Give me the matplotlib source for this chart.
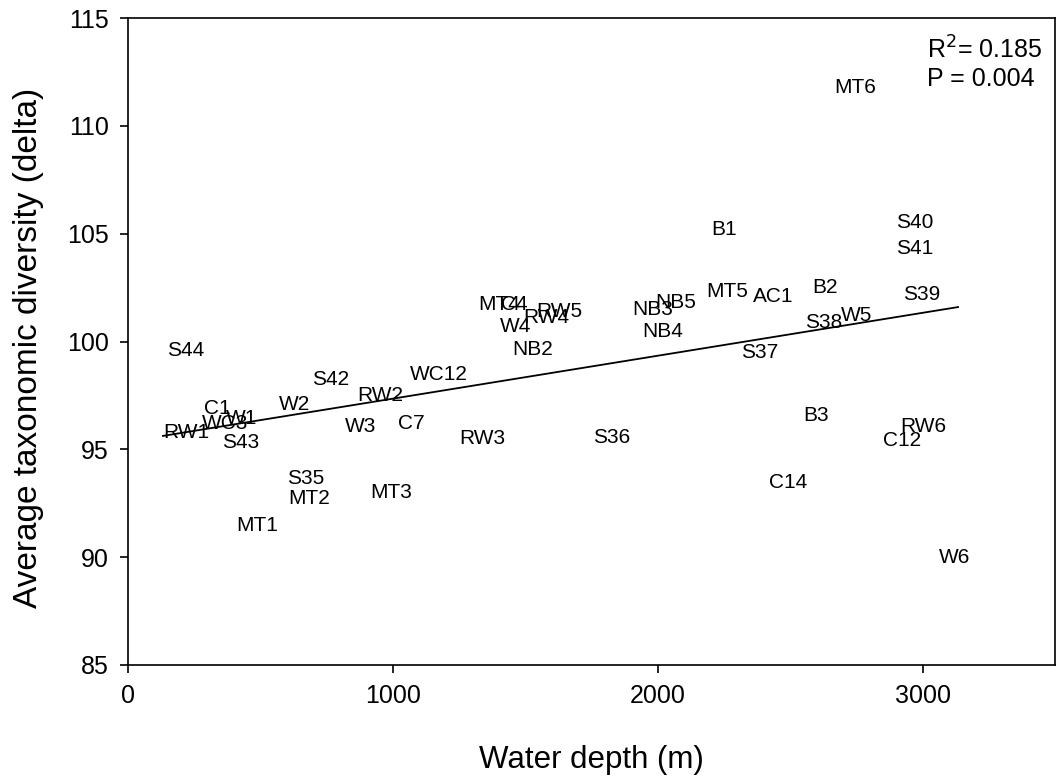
import matplotlib
matplotlib.use("Agg")
import matplotlib.pyplot as plt
import numpy as np

plt.rcParams['font.family'] = ['Liberation Sans', 'DejaVu Sans']

# station labels, water depth (m) and average taxonomic diversity (delta)
sites = ['MT6', 'S40', 'S41', 'B1', 'MT5', 'AC1', 'B2', 'S39', 'NB3', 'NB5',
         'MT4', 'C4', 'RW5', 'RW4', 'W4', 'NB2', 'NB4', 'S38', 'W5', 'S37',
         'S44', 'S42', 'WC12', 'RW2', 'W2', 'C1', 'WC3', 'W1', 'RW1', 'S43',
         'W3', 'C7', 'RW3', 'S36', 'B3', 'RW6', 'C12', 'S35', 'MT2', 'MT3',
         'C14', 'MT1', 'W6']
depth = [2746, 2972, 2972, 2249, 2264, 2437, 2633, 2998, 1981, 2068,
         1400, 1458, 1627, 1578, 1465, 1529, 2019, 2625, 2750, 2384,
         218, 765, 1175, 953, 629, 339, 365, 429, 222, 425,
         878, 1070, 1337, 1827, 2599, 3002, 2923, 670, 682, 994,
         2493, 486, 3122]
delta = [111.8, 105.5, 104.3, 105.2, 102.3, 102.1, 102.5, 102.2, 101.5, 101.8,
         101.7, 101.7, 101.4, 101.1, 100.7, 99.65, 100.45, 100.9, 101.2, 99.47,
         99.56, 98.26, 98.45, 97.48, 97.06, 96.9, 96.2, 96.45, 95.8, 95.3,
         96.04, 96.18, 95.5, 95.53, 96.55, 96.08, 95.4, 93.67, 92.7, 92.98,
         93.44, 91.45, 90.0]

# linear fit
fit_intercept = 95.36
fit_slope = 0.00199
fit_range = [132, 3134]

fig = plt.figure(figsize=(10.56, 7.79), dpi=100)
ax = fig.add_axes([128 / 1056, 1 - 665 / 779, 927 / 1056, 647 / 779])

for name, x, y in zip(sites, depth, delta):
    ax.text(x, y, name, ha='center', va='center', fontsize=15)

fx = np.array(fit_range)
ax.plot(fx, fit_intercept + fit_slope * fx, color='black', lw=1.3)

ax.set_xlim(0, 3500)
ax.set_ylim(85, 115)
ax.set_xticks([0, 1000, 2000, 3000])
ax.set_yticks([85, 90, 95, 100, 105, 110, 115])
ax.tick_params(direction='out', length=6, width=1.2, labelsize=18, pad=8)
for s in ax.spines.values():
    s.set_linewidth(1.2)

ax.set_xlabel('Water depth (m)', fontsize=22.5, labelpad=26)
ax.set_ylabel('Average taxonomic diversity (delta)', fontsize=24)
ax.yaxis.set_label_coords(-0.091, 0.49)

ax.text(0.862, 0.972, r'R$^2$= 0.185' + '\nP = 0.004', transform=ax.transAxes,
        ha='left', va='top', fontsize=18, linespacing=1.2)

fig.savefig('out.png', dpi=100)
